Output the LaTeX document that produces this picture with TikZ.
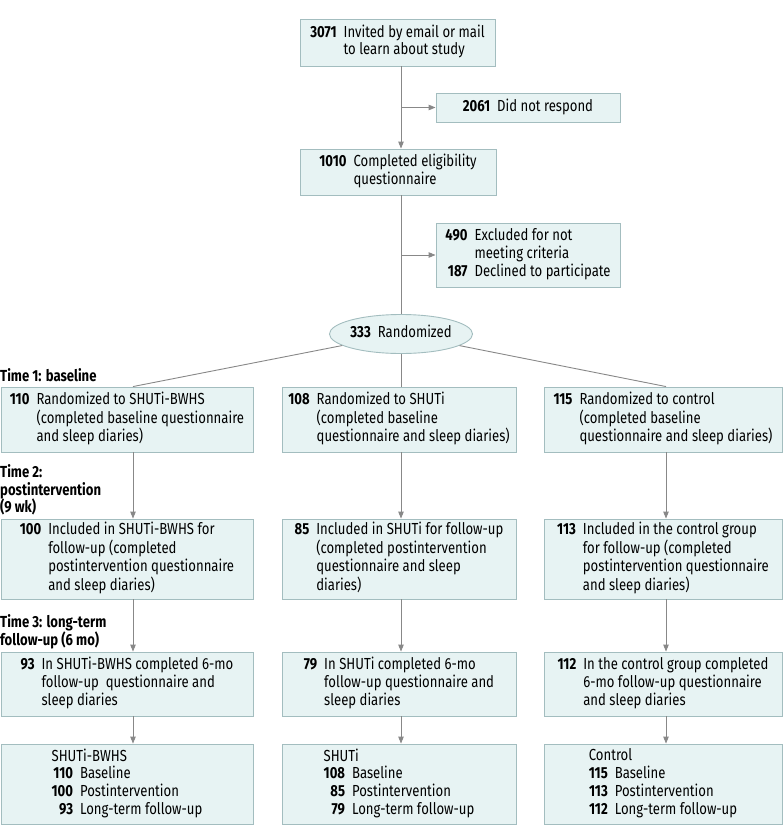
\documentclass[tikz,border=0pt]{standalone}
\usepackage{fontspec}
\setmainfont{Fira Sans}[FakeStretch=0.82]
\usetikzlibrary{arrows.meta,shapes.geometric}
\definecolor{boxfill}{HTML}{E7F3F3}
\definecolor{boxline}{HTML}{A3BDBF}
\definecolor{conn}{HTML}{888888}
\newcommand\boxfont{\fontsize{16pt}{17.6pt}\selectfont}
\newcommand\nt[1]{\begin{tabular}{@{}r@{\hspace{7pt}}l@{}}#1\end{tabular}}
\tikzset{
  box/.style={draw=boxline, fill=boxfill, line width=0.9pt, inner sep=0pt, font=\boxfont, align=left},
  ovalbox/.style={ellipse, draw=boxline, fill=boxfill, line width=0.9pt, inner sep=0pt, font=\boxfont},
  timelbl/.style={anchor=west, inner sep=0pt, font=\boxfont\bfseries, align=left},
  ln/.style={draw=conn, line width=0.9pt},
  arr/.style={ln, -{Triangle[length=7pt,width=5.5pt]}}
}
\begin{document}
\begin{tikzpicture}[x=1pt,y=-1pt]
\useasboundingbox (0,0) rectangle (783,839);
\coordinate (ca) at (133,0);
\coordinate (cb) at (401,0);
\coordinate (cc) at (666,0);

\node[box, minimum width=195pt, minimum height=47pt] (b0) at (397.5,42.5)
  {\nt{\textbf{3071} & Invited by email or mail\\ & to learn about study}};
\node[box, minimum width=184pt, minimum height=29pt] (nr) at (528,107.5)
  {\nt{\textbf{2061} & Did not respond}};
\node[box, minimum width=196pt, minimum height=46pt] (b1) at (398,172)
  {\nt{\textbf{1010} & Completed eligibility\\ & questionnaire}};
\node[box, minimum width=184pt, minimum height=64pt] (ex) at (528,255)
  {\nt{\textbf{490} & Excluded for not\\ & meeting criteria\\ \textbf{187} & Declined to participate}};
\node[ovalbox, minimum width=136pt, minimum height=39pt] (ell) at (401,334)
  {\nt{\textbf{333} & Randomized}};

\node[timelbl] (t1) at (0,375) {Time 1: baseline};
\node[timelbl] (t2) at (0,490) {Time 2:\\postintervention\\(9 wk)};
\node[timelbl] (t3) at (0,631.5) {Time 3: long-term\\follow-up (6 mo)};

% row 1
\node[box, minimum width=252pt, minimum height=65pt] (r1a) at (127,419.5)
  {\nt{\textbf{110} & Randomized to SHUTi-BWHS\\ & (completed baseline questionnaire\\ & and sleep diaries)}};
\node[box, minimum width=234pt, minimum height=65pt] (r1b) at (399,419.5)
  {\nt{\textbf{108} & Randomized to SHUTi\\ & (completed baseline\\ & questionnaire and sleep diaries)}};
\node[box, minimum width=238pt, minimum height=65pt] (r1c) at (663,419.5)
  {\nt{\textbf{115} & Randomized to control\\ & (completed baseline\\ & questionnaire and sleep diaries)}};
% row 2
\node[box, minimum width=252pt, minimum height=80pt] (r2a) at (127,559)
  {\nt{\textbf{100} & Included in SHUTi-BWHS for\\ & follow-up (completed\\ & postintervention questionnaire\\ & and sleep diaries)}};
\node[box, minimum width=234pt, minimum height=80pt] (r2b) at (399,559)
  {\nt{\textbf{85} & Included in SHUTi for follow-up\\ & (completed postintervention\\ & questionnaire and sleep\\ & diaries)}};
\node[box, minimum width=238pt, minimum height=80pt] (r2c) at (663,559)
  {\nt{\textbf{113} & Included in the control group\\ & for follow-up (completed\\ & postintervention questionnaire\\ & and sleep diaries)}};
% row 3
\node[box, minimum width=252pt, minimum height=64pt] (r3a) at (127,684)
  {\nt{\textbf{93} & In SHUTi-BWHS completed 6-mo\\ & follow-up\ \ questionnaire and\\ & sleep diaries}};
\node[box, minimum width=234pt, minimum height=64pt] (r3b) at (399,684)
  {\nt{\textbf{79} & In SHUTi completed 6-mo\\ & follow-up questionnaire and\\ & sleep diaries}};
\node[box, minimum width=238pt, minimum height=64pt] (r3c) at (663,684)
  {\nt{\textbf{112} & In the control group completed\\ & 6-mo follow-up questionnaire\\ & and sleep diaries}};
% row 4
\node[box, minimum width=252pt, minimum height=80pt] (r4a) at (127,784)
  {\nt{\multicolumn{2}{@{}l@{}}{SHUTi-BWHS}\\ \textbf{110} & Baseline\\ \textbf{100} & Postintervention\\ \textbf{93} & Long-term follow-up}};
\node[box, minimum width=234pt, minimum height=80pt] (r4b) at (399,784)
  {\nt{\multicolumn{2}{@{}l@{}}{SHUTi}\\ \textbf{108} & Baseline\\ \textbf{85} & Postintervention\\ \textbf{79} & Long-term follow-up}};
\node[box, minimum width=238pt, minimum height=80pt] (r4c) at (663,784)
  {\nt{\multicolumn{2}{@{}l@{}}{Control}\\ \textbf{115} & Baseline\\ \textbf{113} & Postintervention\\ \textbf{112} & Long-term follow-up}};

% connectors
\draw[arr] (b0.south -| cb) -- (b1.north -| cb);
\draw[arr] (nr.west -| cb) -- (nr.west);
\draw[ln] (b1.south -| cb) -- (ell);
\draw[arr] (ex.west -| cb) -- (ex.west);
\draw[ln] (ell) -- (r1a.north -| ca);
\draw[ln] (ell) -- (r1b.north -| cb);
\draw[ln] (ell) -- (r1c.north -| cc);
\foreach \c/\col in {a/ca,b/cb,c/cc}{
  \draw[arr] (r1\c.south -| \col) -- (r2\c.north -| \col);
  \draw[arr] (r2\c.south -| \col) -- (r3\c.north -| \col);
  \draw[arr] (r3\c.south -| \col) -- (r4\c.north -| \col);
}
\end{tikzpicture}
\end{document}
